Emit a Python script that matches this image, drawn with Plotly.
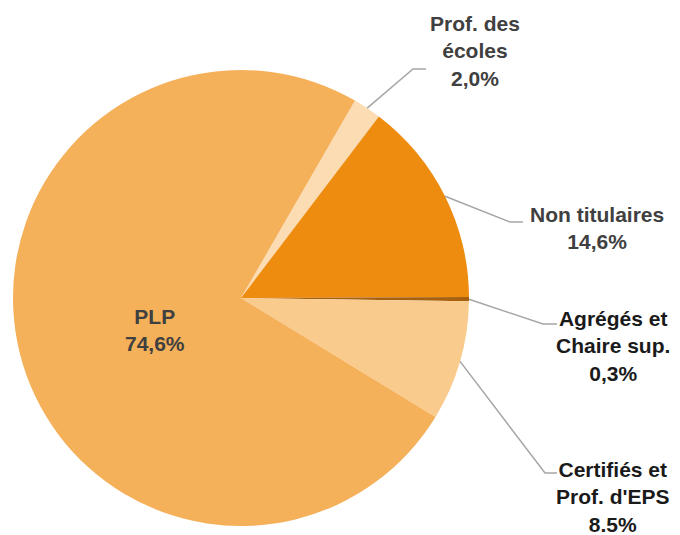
import math
import plotly.graph_objects as go

# Data (clockwise order starting from "Prof. des écoles")
categories = ["Prof. des<br>écoles", "Non titulaires", "Agrégés et<br>Chaire sup.", "Certifiés et<br>Prof. d'EPS", "PLP"]
values = [2.0, 14.6, 0.3, 8.5, 74.6]
pct_labels = ["2,0%", "14,6%", "0,3%", "8.5%", "74,6%"]

colors = ["#FBDCB3", "#EE8C10", "#A6600E", "#F9CB8D", "#F5B05A"]
text_colors = ["#404040", "#404040", "#1A1A1A", "#1A1A1A", "#404040"]

W, H = 680, 535
cx, cy, R = 241, 298, 228
rotation = 30

fig = go.Figure(go.Pie(
    labels=[c.replace("<br>", " ") for c in categories],
    values=values,
    sort=False,
    direction="clockwise",
    rotation=rotation,
    marker=dict(colors=colors, line=dict(width=0)),
    textinfo="none",
    hoverinfo="label+percent",
    showlegend=False,
    domain=dict(x=[(cx - R) / W, (cx + R) / W], y=[1 - (cy + R) / H, 1 - (cy - R) / H]),
))

def px(x):
    return x / W

def py(y):
    return 1 - y / H

# label layout (pixel positions)
label_pos = [(475, 51), (597, 228), (613, 346), (613, 497), (155, 330)]
elbows = [((413, 69), (426, 69)), ((510, 222), (523, 222)), ((543, 324), (557, 324)), ((545, 473), (557, 473)), None]

total = sum(values)
cum = 0.0
shapes = []
annotations = []
for i, v in enumerate(values):
    mid = rotation + (cum + v / 2) / total * 360
    cum += v
    sx = cx + R * math.sin(math.radians(mid))
    sy = cy - R * math.cos(math.radians(mid))
    if elbows[i] is not None:
        (ex, ey), (fx, fy) = elbows[i]
        shapes.append(dict(
            type="path", xref="paper", yref="paper",
            path=f"M {px(sx)} {py(sy)} L {px(ex)} {py(ey)} L {px(fx)} {py(fy)}",
            line=dict(color="#A6A6A6", width=1.5),
        ))
    lx, ly = label_pos[i]
    annotations.append(dict(
        x=px(lx), y=py(ly), xref="paper", yref="paper",
        xanchor="center", yanchor="middle", showarrow=False, align="center",
        text="<b>" + categories[i].replace("<br>", "</b><br><b>") + "</b><br><b>" + pct_labels[i] + "</b>",
        font=dict(family="Liberation Sans Narrow, Liberation Sans, Arial", size=21, color=text_colors[i]),
    ))

fig.update_layout(
    width=W, height=H,
    margin=dict(l=0, r=0, t=0, b=0),
    paper_bgcolor="white", plot_bgcolor="white",
    shapes=shapes, annotations=annotations,
)

fig.write_html("out.html", config={"displayModeBar": False},
               post_script="document.body.style.margin='0';document.body.style.overflow='hidden';")
